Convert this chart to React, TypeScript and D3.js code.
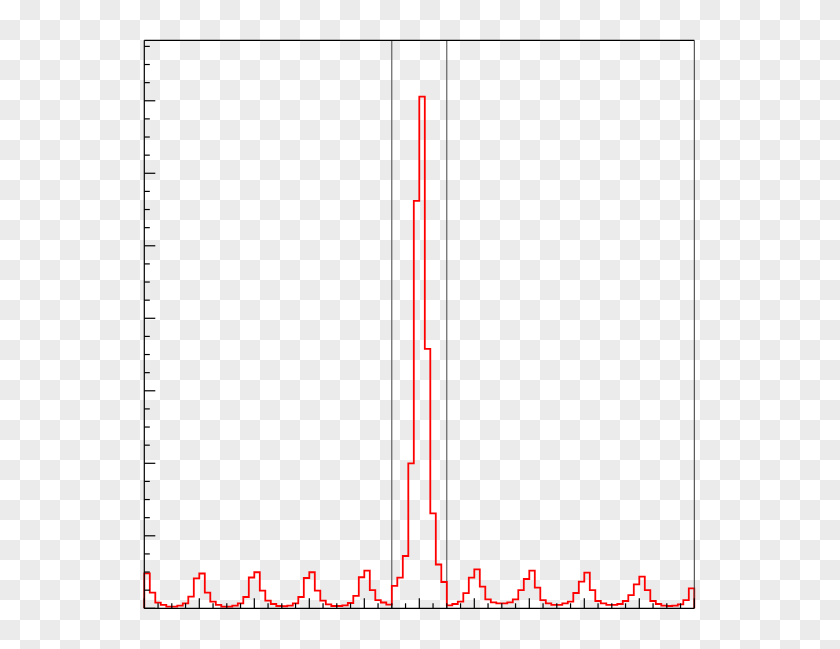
import React from "react";
import * as d3 from "d3";

// Histogram: 100 bins over [0, 100]
const binCounts: number[] = [
  48.3, 21.5, 7.7, 4.6, 2.2, 2.2, 3.6, 6.9, 16.0, 41.4,
  48.0, 21.5, 9.1, 4.6, 2.2, 2.2, 3.6, 6.9, 15.6, 42.5,
  49.7, 24.3, 10.5, 5.9, 3.2, 2.8, 3.6, 6.9, 15.6, 41.8,
  49.7, 24.3, 10.5, 5.5, 3.2, 3.2, 4.1, 7.3, 17.0, 42.8,
  51.9, 25.2, 11.4, 8.0, 5.0, 30.8, 42.2, 72.1, 200.0, 561.8,
  705.7, 357.7, 131.0, 60.4, 36.3, 4.1, 5.9, 9.1, 21.0, 42.2,
  53.8, 29.8, 12.4, 8.3, 6.9, 6.9, 8.3, 12.4, 25.2, 40.4,
  51.9, 28.4, 11.4, 6.9, 4.6, 4.6, 6.9, 9.1, 21.1, 36.7,
  49.1, 25.2, 10.1, 6.9, 4.6, 4.6, 5.9, 10.1, 18.3, 33.1,
  43.6, 25.2, 10.1, 5.9, 3.6, 3.2, 3.6, 5.5, 11.4, 27.6,
];
const xDomain: [number, number] = [0, 100];
const yDomain: [number, number] = [0, 783.4];
const xMajorTicks: number[] = [0, 10, 20, 30, 40, 50, 60, 70, 80, 90, 100];
const xMinorStep = 2.5;
const yMajorTicks: number[] = [0, 100, 200, 300, 400, 500, 600, 700];
const yMinorStep = 25;
const windowLines: number[] = [45, 55];

const W = 840;
const H = 649;

export default function App() {
  const x = d3.scaleLinear().domain(xDomain).range([144.3, 694.3]);
  const y = d3.scaleLinear().domain(yDomain).range([608.3, 40.3]);

  const pts: [number, number][] = [[0, 0]];
  binCounts.forEach((v, i) => {
    pts.push([i, v]);
    pts.push([i + 1, v]);
  });
  pts.push([binCounts.length, 0]);
  const line = d3
    .line<[number, number]>()
    .x((d) => x(d[0]))
    .y((d) => y(d[1]));

  const xMinor = d3.range(xDomain[0], xDomain[1] + 0.001, xMinorStep).filter(
    (t) => !xMajorTicks.includes(t)
  );
  const yMinor = d3.range(0, yDomain[1], yMinorStep).filter(
    (t) => !yMajorTicks.includes(t)
  );

  return (
    <svg
      width={W}
      height={H}
      style={{ position: "absolute", left: 0, top: 0, display: "block" }}
    >
      <defs>
        <pattern id="checker" width={40} height={40} patternUnits="userSpaceOnUse">
          <rect width={40} height={40} fill="#ffffff" />
          <rect x={20} y={0} width={20} height={20} fill="#ebebeb" />
          <rect x={0} y={20} width={20} height={20} fill="#ebebeb" />
        </pattern>
      </defs>
      <rect width={W} height={H} fill="url(#checker)" />

      {/* window lines */}
      {windowLines.map((b) => (
        <line
          key={b}
          x1={x(b)}
          x2={x(b)}
          y1={y(yDomain[1])}
          y2={y(0)}
          stroke="#444"
          strokeWidth={1}
        />
      ))}

      {/* histogram */}
      <path d={line(pts) || ""} fill="none" stroke="#ff0000" strokeWidth={1.8} />

      {/* frame */}
      <line x1={x(0)} x2={x(100)} y1={y(yDomain[1])} y2={y(yDomain[1])} stroke="#000" strokeWidth={1.2} />
      <line x1={x(100)} x2={x(100)} y1={y(yDomain[1])} y2={y(0)} stroke="#333" strokeWidth={1} />
      <line x1={x(0)} x2={x(0)} y1={y(yDomain[1])} y2={y(0)} stroke="#000" strokeWidth={1.2} />
      <line x1={x(0)} x2={x(100)} y1={y(0)} y2={y(0)} stroke="#000" strokeWidth={1.2} />

      {/* y ticks */}
      {yMajorTicks.map((t) => (
        <line key={"ym" + t} x1={x(0)} x2={x(0) + 11} y1={y(t)} y2={y(t)} stroke="#000" strokeWidth={1.2} />
      ))}
      {yMinor.map((t) => (
        <line key={"yn" + t} x1={x(0)} x2={x(0) + 5.5} y1={y(t)} y2={y(t)} stroke="#000" strokeWidth={1.2} />
      ))}

      {/* x ticks */}
      {xMajorTicks.map((t) => (
        <line key={"xm" + t} x1={x(t)} x2={x(t)} y1={y(0)} y2={y(0) - 10} stroke="#000" strokeWidth={1.2} />
      ))}
      {xMinor.map((t) => (
        <line key={"xn" + t} x1={x(t)} x2={x(t)} y1={y(0)} y2={y(0) - 5} stroke="#000" strokeWidth={1.2} />
      ))}
    </svg>
  );
}
